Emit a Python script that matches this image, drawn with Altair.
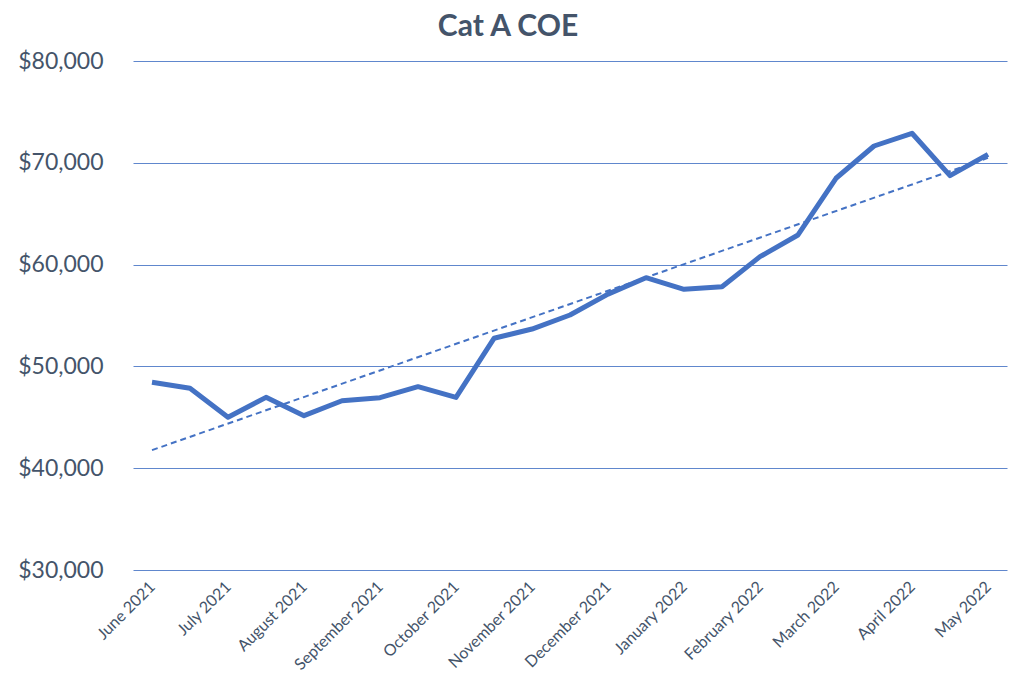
import altair as alt
import pandas as pd

# Cat A COE premium, two bidding exercises per month
months = ["June 2021", "July 2021", "August 2021", "September 2021", "October 2021",
          "November 2021", "December 2021", "January 2022", "February 2022",
          "March 2022", "April 2022", "May 2022"]
premiums = [48440, 47850, 45000, 46960, 45160, 46630, 46930, 48010, 46960,
            52760, 53670, 55050, 57100, 58710, 57570, 57830, 60780, 62910,
            68480, 71650, 72900, 68740, 70830]

df = pd.DataFrame({"idx": list(range(len(premiums))), "premium": premiums})

BLUE = "#4472C4"
TEXT = "#44546A"
FONT = "Lato"

label_array = "[" + ",".join("'" + m + "'" for m in months) + "]"

x_enc = alt.X(
    "idx:Q",
    scale=alt.Scale(domain=[-0.5, len(premiums) - 0.5], nice=False, zero=False),
    axis=alt.Axis(
        values=list(range(0, len(premiums), 2)),
        labelExpr=label_array + "[datum.value / 2]",
        labelAngle=-45, labelAlign="right", labelBaseline="middle",
        labelPadding=14, labelFontSize=16, labelColor=TEXT, labelFont=FONT,
        labelOverlap=False, labelBound=False,
        domain=False, ticks=False, grid=False, title=None,
    ),
)
y_enc = alt.Y(
    "premium:Q",
    scale=alt.Scale(domain=[30000, 80000], nice=False, zero=False),
    axis=alt.Axis(
        values=[30000, 40000, 50000, 60000, 70000, 80000],
        format="$,.0f", labelFontSize=23, labelColor=TEXT, labelFont=FONT,
        labelPadding=30, domain=False, ticks=False,
        grid=True, gridColor=BLUE, gridWidth=1, gridOpacity=0.85, title=None,
    ),
)

line = alt.Chart(df).mark_line(color=BLUE, strokeWidth=5, strokeJoin="round").encode(
    x=x_enc, y=y_enc
)

trend = alt.Chart(df).transform_regression("idx", "premium").mark_line(
    color=BLUE, strokeWidth=2, strokeDash=[6, 4]
).encode(x="idx:Q", y="premium:Q")

chart = (
    alt.layer(line, trend)
    .properties(
        width=874, height=509,
        title=alt.TitleParams(
            "Cat A COE", fontSize=30, fontWeight="bold", color=TEXT, font=FONT,
            anchor="middle", dx=-62, offset=8,
        ),
        autosize=alt.AutoSizeParams(type="none"),
        padding={"left": 133, "top": 61, "right": 17, "bottom": 113},
        background="white",
    )
    .configure_view(stroke=None)
)

chart.save("out.html", embed_options={"renderer": "svg", "actions": False})
